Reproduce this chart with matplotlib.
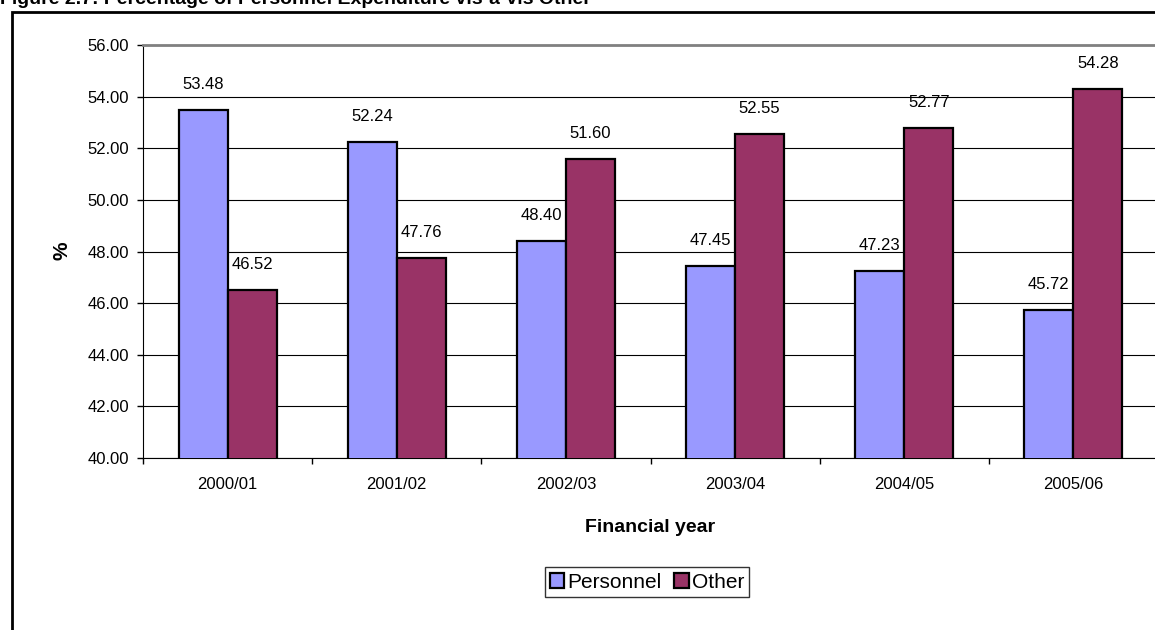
import matplotlib
matplotlib.use("Agg")
import matplotlib.pyplot as plt
from matplotlib.patches import Rectangle
import numpy as np

categories = ["2000/01", "2001/02", "2002/03", "2003/04", "2004/05", "2005/06"]
personnel = [53.48, 52.24, 48.40, 47.45, 47.23, 45.72]
other = [46.52, 47.76, 51.60, 52.55, 52.77, 54.28]
series_names = ["Personnel", "Other"]
yticks = [40, 42, 44, 46, 48, 50, 52, 54, 56]

plt.rcParams['font.family'] = ['Liberation Sans', 'DejaVu Sans']

W, H = 1155, 630
fig = plt.figure(figsize=(W / 100, H / 100), dpi=100)

# Outer chart frame
fig.patches.append(Rectangle((12 / W, -0.2), 1.2, (H - 12) / H + 0.2,
                             transform=fig.transFigure, fill=False,
                             edgecolor='black', linewidth=2, zorder=0))

# Title (partially cut off at top, as in the reference)
fig.text(0 / W, (H - 4) / H,
         "Figure 2.7: Percentage of Personnel Expenditure vis-\u00e0-vis Other",
         fontsize=14, fontweight='bold', ha='left', va='baseline')

left, right, top, bottom = 143, 1158, 45, 458
ax = fig.add_axes([left / W, (H - bottom) / H, (right - left) / W, (bottom - top) / H])

x = np.arange(len(categories))
bw = 0.29
b1 = ax.bar(x - bw / 2, personnel, bw, color='#9999FF', edgecolor='black',
            linewidth=1.6, label=series_names[0], zorder=3)
b2 = ax.bar(x + bw / 2, other, bw, color='#993366', edgecolor='black',
            linewidth=1.6, label=series_names[1], zorder=3)

for bars, vals in ((b1, personnel), (b2, other)):
    for rect, v in zip(bars, vals):
        ax.annotate(f"{v:.2f}", (rect.get_x() + rect.get_width() / 2, v),
                    xytext=(0, 13), textcoords='offset points',
                    ha='center', va='bottom', fontsize=12, zorder=4)

ax.set_ylim(40, 56)
ax.set_xlim(-0.5, len(categories) - 0.5)
ax.set_yticks(yticks)
ax.set_yticklabels([f"{t:.2f}" for t in yticks], fontsize=12)
ax.yaxis.grid(True, color='black', linewidth=0.8)
ax.set_axisbelow(True)

ax.set_xticks(x)
ax.set_xticklabels(categories, fontsize=12)
ax.tick_params(axis='x', which='major', length=0, pad=13.5)
ax.set_xticks(np.arange(len(categories) + 1) - 0.5, minor=True)
ax.tick_params(axis='x', which='minor', length=4, width=1, direction='out')
ax.tick_params(axis='y', length=4, width=1, direction='out', pad=6)

ax.spines['right'].set_visible(False)
ax.spines['top'].set_color('#808080')
ax.spines['top'].set_linewidth(2)
ax.spines['left'].set_color('black')
ax.spines['bottom'].set_color('black')

fig.text(650 / W, (H - 528) / H, "Financial year", fontsize=14, fontweight='bold',
         ha='center', va='center')
fig.text(62 / W, (H - 251) / H, "%", fontsize=15, fontweight='bold',
         ha='center', va='center', rotation=90)

leg = fig.legend(handles=[b1, b2], labels=series_names, loc='center',
                 bbox_to_anchor=(647 / W, (H - 582) / H), ncol=2, fontsize=15,
                 frameon=True, fancybox=False, edgecolor='black',
                 handlelength=0.7, handleheight=0.7, handletextpad=0.15,
                 columnspacing=0.6, borderpad=0.25, borderaxespad=0)
leg.get_frame().set_linewidth(1)

fig.savefig("out.png", dpi=100)
